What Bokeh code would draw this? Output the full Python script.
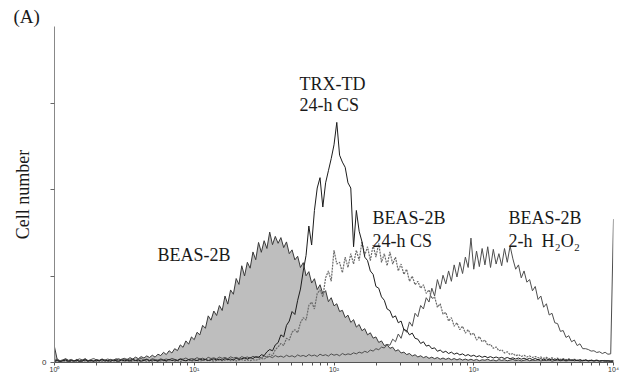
import numpy as np
from bokeh.plotting import figure
from bokeh.models import Range1d, FixedTicker, Label
from bokeh.embed import file_html
from bokeh.resources import INLINE

# histogram channels: log10 fluorescence step of 0.02 decades from 10^0 to 10^4
channel_step = 0.02

# BEAS-2B (control, filled grey)
beas = [9,
        1.5, 0.8, 1.2, 2.0, 1.0, 1.4, 0.7, 1.8, 1.1, 1.5, 2.2, 1.0, 1.3, 0.9, 1.7, 1.2, 2.0, 1.4, 1.0, 1.8, 1.3, 2.1, 1.5, 1.9,
        2.4, 1.6, 2.8, 2.0, 3.1, 2.2, 3.4, 2.6, 3.8, 2.9, 4.2, 3.1, 4.8, 4.0, 5.9, 4.6, 6.8, 5.5, 8.0, 6.9, 10.2, 8.8, 12.5, 10.6, 14.8,
        13.2, 17.5, 16.0, 21.5, 19.8, 27.0, 24.5, 29.8, 27.2, 33.0, 30.1, 38.5, 33.8, 42.0, 39.5, 48.6, 45.2, 56.0, 50.1, 58.0, 54.6, 64.0, 59.5, 69.5, 63.8,
        70.5, 66.0, 75.5, 68.2, 73.0, 69.0, 72.3, 66.5, 69.8, 63.0, 65.2, 59.4, 61.5, 55.0, 57.8, 50.2, 52.6, 46.0, 48.5, 42.2, 45.0, 39.8, 41.6, 35.2, 37.5,
        32.8, 34.0, 29.5, 30.2, 26.0, 27.4, 23.2, 24.8, 20.5, 22.0, 18.4, 19.6, 16.0, 17.2, 14.1, 14.8, 11.6, 12.5, 9.8, 10.4, 8.2, 8.9, 6.6, 7.4, 5.5,
        6.0, 4.6, 5.2, 3.8, 4.5, 3.2, 3.9, 2.8, 3.5, 2.4, 3.1, 2.2, 2.9, 1.9, 2.6, 1.8, 2.5, 1.6, 2.3, 1.5, 2.2, 1.4, 2.0, 1.3, 1.9,
        1.2, 1.8, 1.0, 1.6, 1.3, 1.9, 1.1, 1.5, 0.9, 1.7,
        1.2, 1.6, 1.0, 1.4, 1.8, 1.1, 1.5, 0.9, 1.3, 1.7,
        1.0, 1.4, 1.2, 1.6, 0.9, 1.3, 1.1, 1.5, 0.8, 1.2,
        1.4, 1.0, 1.3, 0.9, 1.2, 1.5, 1.0, 1.3, 0.8, 1.1,
        1.3, 0.9, 1.2, 1.0, 1.4, 0.8, 1.1, 1.2, 0.9, 1.0,
        1.0]

# TRX-TD 24-h CS (solid black)
trx = [0.8, 1.2, 0.6, 1.0, 1.4, 0.7, 1.1, 0.9, 1.3, 0.6,
       1.0, 1.5, 0.8, 1.2, 0.7, 1.3, 1.0, 1.6, 0.9, 1.2,
       0.8, 1.4, 1.1, 0.7, 1.5, 1.0, 1.3, 0.9, 1.6, 1.1,
       1.4, 0.8, 1.2, 1.7, 1.0, 1.5, 1.2, 0.9, 1.6, 1.3,
       1.0, 1.8, 1.2, 1.5, 1.1, 1.9, 1.4, 1.0, 1.7, 1.3,
       1.6, 1.1, 2.0, 1.4, 1.8, 1.2, 1.6, 2.1, 1.5, 1.9,
       1.4, 2.2, 1.7, 2.0, 1.5, 2.4, 1.8, 2.2, 2.6, 2.0,
       2.8, 2.3, 3.4, 2.9, 4.5, 4.0, 6.2, 7.5, 6.8, 10.2,
       11.5, 16.0, 14.8, 21.5, 24.0, 29.5, 27.8, 36.0, 42.5, 53.0,
       62.0, 79.0, 68.0, 88.0, 101.0, 107.0, 90.0, 104.0, 111.0, 118.0,
       126.0, 139.0, 120.0, 116.0, 113.0, 104.0, 101.0, 67.0, 88.0, 76.0,
       70.0, 61.0, 59.0, 53.0, 51.0, 44.0, 43.0, 38.0, 36.0, 31.0,
       30.0, 26.0, 27.0, 23.0, 24.0, 19.0, 18.5, 16.0, 17.0, 14.0,
       13.5, 11.0, 12.0, 9.5, 10.0, 8.0, 8.5, 6.5, 7.2, 5.8,
       6.5, 5.2, 6.0, 4.8, 5.5, 4.4, 5.0, 3.9, 4.6, 3.6,
       4.2, 3.3, 3.9, 3.0, 3.6, 2.8, 3.4, 2.6, 3.2, 2.5,
       3.0, 2.3, 2.9, 2.2, 2.7, 2.0, 2.6, 1.9, 2.5, 1.8,
       2.4, 1.7, 2.3, 1.6, 2.2, 1.5, 2.1, 1.5, 2.0, 1.4,
       1.9, 1.3, 1.8, 1.2, 1.7, 1.2, 1.6, 1.1, 1.5, 1.0,
       1.4, 1.0, 1.3, 0.9, 1.2, 0.9, 1.1, 0.8, 1.0, 0.7, 0.8]

# BEAS-2B 24-h CS (dotted)
cs24 = [0.5, 0.9, 0.6, 1.0, 0.7, 0.4, 0.8, 1.1, 0.6, 0.9,
        0.7, 1.0, 0.5, 0.8, 1.2, 0.6, 0.9, 0.7, 1.1, 0.5,
        0.8, 1.0, 0.6, 0.9, 1.2, 0.7, 1.0, 0.5, 0.8, 1.1,
        0.6, 0.9, 1.2, 0.7, 1.0, 0.8, 1.3, 0.6, 0.9, 1.1,
        0.7, 1.0, 1.3, 0.8, 1.1, 0.6, 1.2, 0.9, 1.4, 0.8,
        1.1, 1.3, 0.9, 1.2, 1.5, 1.0, 1.3, 0.8, 1.2, 1.4,
        1.0, 1.3, 1.6, 1.1, 1.4, 0.9, 1.3, 1.7, 1.2, 1.5,
        1.1, 1.6, 1.3, 1.8, 2.4, 1.9, 3.2, 4.8, 4.0, 7.5,
        9.0, 11.0, 9.8, 14.0, 13.0, 17.5, 19.0, 17.2, 23.0, 26.0,
        24.5, 33.0, 35.0, 31.0, 40.0, 42.0, 38.0, 49.0, 53.0, 47.0,
        65.0, 57.0, 58.0, 52.0, 61.0, 55.0, 63.0, 57.0, 65.0, 59.0,
        70.0, 62.0, 67.0, 59.0, 68.0, 61.0, 69.0, 58.0, 63.0, 56.0,
        64.0, 57.0, 61.0, 53.0, 57.0, 51.0, 54.0, 47.0, 50.0, 45.0,
        47.0, 43.0, 45.0, 40.0, 42.0, 37.0, 38.0, 32.0, 34.0, 28.0,
        29.0, 24.0, 26.0, 21.0, 23.0, 19.0, 21.0, 17.0, 19.0, 16.0,
        17.0, 13.0, 15.0, 12.0, 13.0, 10.0, 10.5, 8.2, 9.0, 6.8,
        7.4, 5.5, 6.2, 4.6, 5.2, 3.9, 4.6, 3.5, 4.2, 3.2,
        3.8, 2.9, 3.5, 2.7, 3.2, 2.4, 3.0, 2.2, 2.8, 2.0,
        2.5, 1.8, 2.3, 1.6, 2.1, 1.5, 1.9, 1.3, 1.7, 1.2,
        1.6, 1.1, 1.4, 1.0, 1.3, 0.9, 1.2, 0.8, 1.0, 0.7, 0.9]

# BEAS-2B 2-h H2O2 (solid grey)
h2o2 = [1.2, 2.0, 1.0, 1.6, 2.2, 1.3, 1.8, 1.0, 1.5, 2.1,
        1.4, 1.9, 1.1, 1.7, 2.3, 1.5, 1.2, 1.9, 1.4, 2.0,
        1.6, 1.1, 1.8, 2.2, 1.3, 1.7, 2.0, 1.4, 1.9, 1.2,
        1.8, 2.3, 1.5, 2.0, 1.3, 2.2, 1.7, 1.4, 2.1, 1.6,
        2.0, 1.5, 2.4, 1.8, 1.3, 2.2, 1.9, 2.6, 1.7, 2.3,
        1.9, 2.8, 2.0, 2.5, 1.8, 3.0, 2.3, 2.7, 2.1, 3.1,
        2.4, 2.9, 2.2, 3.3, 2.6, 3.0, 2.3, 3.4, 2.7, 3.2,
        2.5, 3.6, 2.9, 3.3, 2.6, 3.8, 3.0, 3.5, 2.8, 4.0,
        3.2, 3.7, 3.0, 4.2, 3.4, 3.9, 3.1, 4.4, 3.6, 4.1,
        3.4, 4.6, 3.8, 4.3, 3.5, 4.8, 4.0, 4.5, 3.7, 5.0,
        4.2, 4.7, 3.9, 5.2, 4.4, 5.0, 4.6, 5.6, 5.0, 6.0,
        5.4, 6.5, 5.8, 7.2, 6.6, 8.0, 7.4, 8.9, 8.4, 10.5,
        10.0, 13.5, 12.0, 16.5, 14.0, 19.5, 17.5, 23.5, 21.0, 28.5,
        26.5, 33.0, 31.0, 37.5, 35.0, 43.0, 38.5, 48.0, 42.5, 50.5,
        45.5, 53.0, 47.0, 56.5, 49.5, 58.0, 51.5, 61.0, 55.0, 72.0,
        54.0, 64.5, 55.5, 66.0, 56.5, 67.0, 55.0, 65.5, 57.0, 63.0,
        56.0, 66.0, 58.0, 67.5, 60.0, 54.0, 56.5, 49.0, 53.0, 46.5,
        48.0, 41.5, 44.0, 36.5, 38.5, 32.0, 34.0, 27.5, 28.5, 23.0,
        22.5, 18.0, 18.5, 14.5, 15.5, 12.0, 13.0, 9.8, 10.8, 8.0,
        8.0, 7.5, 6.6, 6.8, 5.8, 6.2, 5.2, 5.9, 4.8, 5.0,
        83.0]

x_major = [1, 10, 100, 1000, 10000]
x_major_labels = ["10\u2070", "10\u00b9", "10\u00b2", "10\u00b3", "10\u2074"]
y_major = [0, 50, 100, 150]

log_pos = np.arange(len(beas)) * channel_step
fluor = 10 ** log_pos

p = figure(width=620, height=376, x_axis_type="log",
           x_range=Range1d(1, 10000), y_range=Range1d(0, 194.5),
           min_border_left=54, min_border_right=7, min_border_top=26, min_border_bottom=14,
           output_backend="svg", toolbar_location=None)
p.outline_line_color = None
p.grid.visible = False
p.background_fill_color = "white"

p.title.text = "(A)"
p.title.align = "left"
p.title.offset = -41
p.title.standoff = 0
p.title.text_font = "Liberation Serif"
p.title.text_font_size = "19px"
p.title.text_font_style = "normal"
p.title.text_color = "#1a1a1a"

p.varea(x=fluor, y1=np.zeros(len(beas)), y2=beas, fill_color="#bebebe", fill_alpha=1.0)
p.line(fluor, beas, line_color="#3a3a3a", line_width=1)
p.line(fluor, h2o2, line_color="#4e4e4e", line_width=1)
p.line(fluor, cs24, line_color="#6a6a6a", line_width=1.2, line_dash="2 1")
p.line(fluor, trx, line_color="#1c1c1c", line_width=1)

minor = [m * 10 ** d for d in range(4) for m in range(2, 10)]
xa = p.xaxis[0]
xa.ticker = FixedTicker(ticks=x_major, minor_ticks=minor)
xa.major_label_overrides = dict(zip(x_major, x_major_labels))
xa.major_label_text_font_size = "7px"
xa.major_label_text_color = "#333333"
xa.major_label_standoff = 0
xa.major_tick_out = 3
xa.major_tick_in = 0
xa.minor_tick_out = 3
xa.minor_tick_in = 0
xa.axis_line_color = "#555555"
xa.major_tick_line_color = "#555555"
xa.minor_tick_line_color = "#555555"

ya = p.yaxis[0]
ya.ticker = FixedTicker(ticks=y_major)
ya.major_label_overrides = {50: "", 100: "", 150: ""}
ya.major_label_text_font_size = "8px"
ya.major_label_text_color = "#333333"
ya.major_label_standoff = 4
ya.major_tick_out = 4
ya.major_tick_in = 0
ya.minor_tick_out = 0
ya.axis_line_color = "#888888"
ya.major_tick_line_color = "#666666"
ya.axis_label = "Cell number"
ya.axis_label_text_font = "Liberation Serif"
ya.axis_label_text_font_size = "18px"
ya.axis_label_text_font_style = "normal"
ya.axis_label_text_color = "#1a1a1a"
ya.axis_label_standoff = 6

font = "Liberation Serif"
labels = [
    ("TRX-TD", 56.6, 161.5),
    ("24-h CS", 56.6, 148.8),
    ("BEAS-2B", 5.46, 62.0),
    ("BEAS-2B", 188.6, 83.4),
    ("24-h CS", 188.6, 70.6),
    ("BEAS-2B", 1773.0, 83.4),
    ("2-h\u00a0\u00a0H\u2082O\u2082", 1773.0, 70.6),
]
for txt, lx, ly in labels:
    p.add_layout(Label(x=lx, y=ly, text=txt, text_font=font, text_font_size="18px",
                       text_color="#1a1a1a", text_baseline="alphabetic", text_align="left"))

open("out.html", "w").write(file_html(p, INLINE))
